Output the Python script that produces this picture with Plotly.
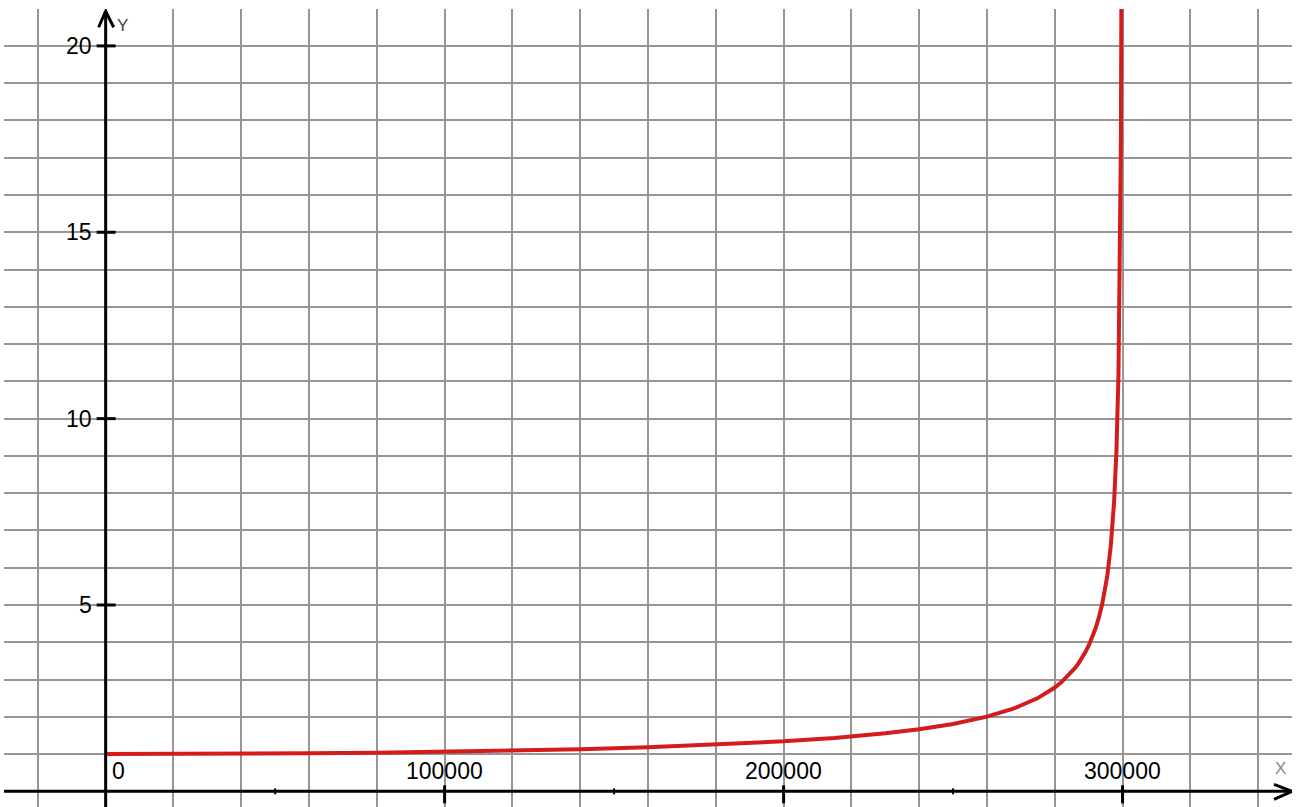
import plotly.graph_objects as go

# Speed (km/s) and the corresponding Lorentz factor gamma
speed = [0, 20000, 40000, 60000, 80000, 100000, 120000, 140000, 160000, 180000,
         200000, 215000, 230000, 240000, 250000, 260000, 268000, 275000, 280000,
         282000, 284000, 286000, 287000, 288000, 289000, 290000, 291000, 292000,
         293000, 294000, 295500, 296500, 297500, 298200, 298800, 299200, 299500,
         299700, 299850]
gamma = [1.000, 1.002, 1.009, 1.021, 1.038, 1.061, 1.091, 1.130, 1.182, 1.250,
         1.342, 1.434, 1.557, 1.667, 1.809, 2.005, 2.225, 2.502, 2.785,
         2.930, 3.104, 3.310, 3.433, 3.570, 3.730, 3.906, 4.120, 4.360,
         4.660, 5.025, 5.783, 6.565, 7.761, 9.144, 11.19, 13.70, 17.33,
         22.37, 31.60]

x_ticks = [100000, 200000, 300000]
x_tick_labels = ["100000", "200000", "300000"]
x_minor = [50000, 150000, 250000]
y_ticks = [5, 10, 15, 20]
y_tick_labels = ["5", "10", "15", "20"]

X_RANGE = [-29990, 349990]
Y_RANGE = [-0.42, 20.99]
Y_TIP = 20.93
X_TIP = 349990

FONT = "Liberation Sans, Arial, sans-serif"
AXIS_W = 3
LABEL_SIZE = 23

fig = go.Figure()
fig.add_trace(go.Scatter(
    x=speed, y=gamma, mode="lines",
    line=dict(color="#d41c1c", width=4),
    hoverinfo="skip", showlegend=False,
))

shapes = []
# axis lines
shapes.append(dict(type="line", xref="x", yref="y", x0=X_RANGE[0], x1=X_TIP, y0=0, y1=0,
                   line=dict(color="black", width=AXIS_W)))
shapes.append(dict(type="line", xref="x", yref="y", x0=0, x1=0, y0=Y_RANGE[0], y1=Y_TIP,
                   line=dict(color="black", width=AXIS_W)))
# arrow heads
shapes.append(dict(type="path", xref="x", yref="y", xsizemode="pixel", ysizemode="pixel",
                   xanchor=0, yanchor=Y_TIP, path="M -7,-16 L 0,0 L 8,-16",
                   line=dict(color="black", width=AXIS_W)))
shapes.append(dict(type="path", xref="x", yref="y", xsizemode="pixel", ysizemode="pixel",
                   xanchor=X_TIP, yanchor=0, path="M -18,7 L 0,0 L -18,-8",
                   line=dict(color="black", width=AXIS_W)))
# major ticks
for v in y_ticks:
    shapes.append(dict(type="line", xref="x", yref="y", xsizemode="pixel",
                       xanchor=0, x0=-9, x1=10, y0=v, y1=v,
                       line=dict(color="black", width=AXIS_W)))
for v in x_ticks:
    shapes.append(dict(type="line", xref="x", yref="y", ysizemode="pixel",
                       yanchor=0, y0=6, y1=-12, x0=v, x1=v,
                       line=dict(color="black", width=AXIS_W)))
for v in x_minor:
    shapes.append(dict(type="line", xref="x", yref="y", ysizemode="pixel",
                       yanchor=0, y0=3, y1=-3, x0=v, x1=v,
                       line=dict(color="black", width=2)))

annotations = []
for v, t in zip(y_ticks, y_tick_labels):
    annotations.append(dict(x=0, y=v, xref="x", yref="y", text=t, showarrow=False,
                            xanchor="right", yanchor="middle", xshift=-12,
                            font=dict(family=FONT, size=LABEL_SIZE, color="black")))
for v, t in zip(x_ticks, x_tick_labels):
    annotations.append(dict(x=v, y=0, xref="x", yref="y", text=t, showarrow=False,
                            xanchor="center", yanchor="middle", yshift=20,
                            font=dict(family=FONT, size=LABEL_SIZE, color="black")))
annotations.append(dict(x=0, y=0, xref="x", yref="y", text="0", showarrow=False,
                        xanchor="center", yanchor="middle", xshift=13, yshift=20,
                        font=dict(family=FONT, size=LABEL_SIZE, color="black")))
annotations.append(dict(x=0, y=20, xref="x", yref="y", text="Y", showarrow=False,
                        xanchor="center", yanchor="middle", xshift=17, yshift=20,
                        font=dict(family=FONT, size=17, color="#444444")))
annotations.append(dict(x=X_TIP, y=0, xref="x", yref="y", text="X", showarrow=False,
                        xanchor="center", yanchor="middle", xshift=-12, yshift=23,
                        font=dict(family=FONT, size=17, color="#8a8a8a")))

fig.update_layout(
    width=1297, height=807,
    margin=dict(l=4, r=5, t=9, b=0, pad=0),
    paper_bgcolor="white", plot_bgcolor="white",
    shapes=shapes, annotations=annotations,
    showlegend=False,
    xaxis=dict(range=X_RANGE, tick0=0, dtick=20000, showgrid=True,
               gridcolor="#969696", gridwidth=1.6, zeroline=False,
               showticklabels=False, ticks="", showline=False, fixedrange=True),
    yaxis=dict(range=Y_RANGE, tick0=0, dtick=1, showgrid=True,
               gridcolor="#969696", gridwidth=1.6, zeroline=False,
               showticklabels=False, ticks="", showline=False, fixedrange=True),
)

fig.write_html("out.html", config={"displayModeBar": False})
